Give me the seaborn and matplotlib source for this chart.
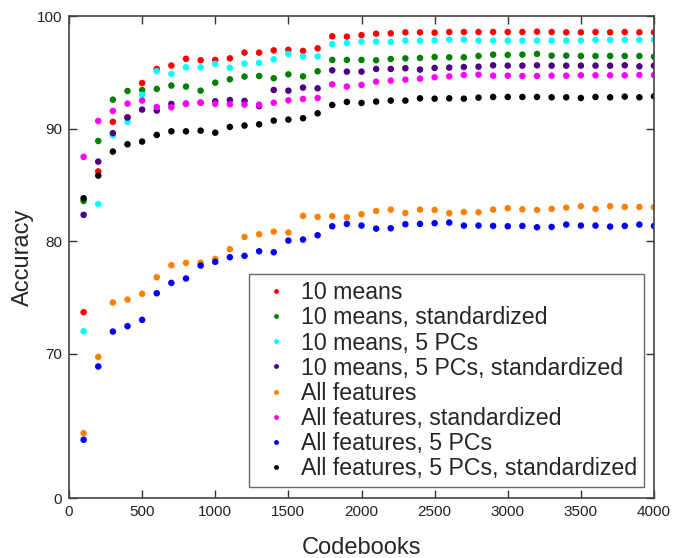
import pandas as pd
import numpy as np
import matplotlib
matplotlib.use("Agg")
import matplotlib.pyplot as plt
import seaborn as sns

codebooks = list(range(100, 4100, 100))

means10 = [73.7, 86.2, 90.6, 91.0, 94.05, 95.3, 95.6, 96.2, 96.07, 96.1, 96.24, 96.75, 96.75, 96.95, 97.0, 96.9, 97.13,
           98.2, 98.17, 98.3, 98.43,
           98.46, 98.55, 98.55, 98.52, 98.58, 98.58, 98.58, 98.58, 98.58, 98.58, 98.61, 98.58, 98.55, 98.55, 98.58, 98.55, 98.58, 98.55, 98.55]
means10_std = [83.58, 88.9, 92.57, 93.34, 93.43, 93.52, 93.82, 93.73, 93.37, 94.08, 94.38, 94.62, 94.67, 94.47, 94.82, 94.64, 95.09,
               96.1, 96.1, 96.1, 96.07,
               96.18, 96.24, 96.27, 96.36, 96.33, 96.33, 96.45, 96.57, 96.54, 96.57, 96.63, 96.48, 96.48, 96.45, 96.45, 96.45, 96.45, 96.45, 96.39]
means10_pc = [72.0, 83.3, 89.4, 90.6, 93.0, 95.1, 94.85, 95.44, 95.44, 95.74, 95.41, 95.77, 95.83, 96.15, 96.63, 96.4, 96.4,
              97.5, 97.6, 97.72, 97.72,
              97.69, 97.81, 97.81, 97.84, 97.9, 97.9, 97.81, 97.81, 97.81, 97.81, 97.81, 97.81, 97.81, 97.81, 97.87, 97.87, 97.87, 97.87, 97.9]
means10_pc_std = [82.34, 87.07, 89.6, 90.98, 91.69, 91.6, 92.19, 92.22, 92.3, 92.43, 92.54, 92.46, 92.0, 93.43, 93.37, 93.64, 93.58,
                  95.18, 95.06, 95.06, 95.3,
                  95.3, 95.36, 95.24, 95.39, 95.42, 95.47, 95.5, 95.62, 95.59, 95.59, 95.62, 95.59, 95.59, 95.59, 95.59, 95.59, 95.62, 95.53, 95.59]
allfeat = [62.96, 69.73, 74.56, 74.82, 75.33, 76.8, 77.87, 78.08, 78.1, 78.43, 79.29, 80.38, 80.62, 80.86, 80.77, 82.25, 82.16,
           82.22, 82.13, 82.4, 82.69,
           82.81, 82.51, 82.81, 82.78, 82.49, 82.6, 82.57, 82.81, 82.93, 82.84, 82.78, 82.87, 82.99, 83.11, 82.87, 83.11, 83.05, 83.05, 83.02]
allfeat_std = [87.49, 90.68, 91.57, 92.22, 92.49, 91.92, 91.89, 92.19, 92.3, 92.19, 92.16, 92.13, 92.13, 92.3, 92.51, 92.63, 92.72,
               93.93, 93.73, 93.88, 94.17,
               94.26, 94.35, 94.44, 94.56, 94.64, 94.76, 94.79, 94.7, 94.7, 94.67, 94.67, 94.7, 94.7, 94.73, 94.73, 94.73, 94.73, 94.76, 94.76]
allfeat_pc = [62.37, 68.88, 71.98, 72.46, 73.02, 75.38, 76.3, 76.69, 77.84, 78.17, 78.58, 78.7, 79.11, 79.02, 80.06, 80.15, 80.53,
              81.33, 81.54, 81.39, 81.12,
              81.15, 81.51, 81.54, 81.6, 81.66, 81.39, 81.39, 81.36, 81.33, 81.36, 81.24, 81.27, 81.48, 81.39, 81.39, 81.3, 81.36, 81.48, 81.36]
allfeat_pc_std = [83.82, 85.83, 87.96, 88.61, 88.85, 89.44, 89.76, 89.76, 89.82, 89.64, 90.15, 90.27, 90.38, 90.71, 90.8, 90.92, 91.36,
                  92.1, 92.37, 92.28, 92.4,
                  92.49, 92.49, 92.69, 92.66, 92.69, 92.66, 92.75, 92.81, 92.81, 92.81, 92.81, 92.78, 92.78, 92.72, 92.81, 92.78, 92.84, 92.78, 92.87]

series = [means10, means10_std, means10_pc, means10_pc_std, allfeat, allfeat_std, allfeat_pc, allfeat_pc_std]
names = ['10 means', '10 means, standardized', '10 means, 5 PCs', '10 means, 5 PCs, standardized',
         'All features', 'All features, standardized', 'All features, 5 PCs', 'All features, 5 PCs, standardized']
colors = ['#ff0000', '#008000', '#00ffff', '#4b0082', '#ff8000', '#ff00ff', '#0000ff', '#000000']

ytick_vals = [57.2, 70, 80, 90, 100]
ytick_labels = ['0', '70', '80', '90', '100']

df = pd.DataFrame({
    'Codebooks': codebooks * len(series),
    'Accuracy': np.concatenate(series),
    'method': np.repeat(names, len(codebooks)),
})

sns.set_style('ticks')
plt.rcParams['font.family'] = ['Liberation Sans', 'DejaVu Sans']

fig = plt.figure(figsize=(6.74, 5.58), dpi=100)
ax = fig.add_axes([69 / 674, 60 / 558, 585 / 674, 482 / 558])
sns.scatterplot(data=df, x='Codebooks', y='Accuracy', hue='method', hue_order=names,
                palette=colors, s=22, linewidth=0, ax=ax, legend=True)

ax.set_xlim(0, 4000)
ax.set_ylim(57.2, 100)
ax.set_xticks([0, 500, 1000, 1500, 2000, 2500, 3000, 3500, 4000])
ax.set_yticks(ytick_vals)
ax.set_yticklabels(ytick_labels)
ax.tick_params(direction='in', top=True, right=True, length=6, width=1, colors='#333333',
               labelsize=11, labelcolor='#222222', pad=5)
for sp in ax.spines.values():
    sp.set_color('#444444')
    sp.set_linewidth(1.2)
ax.set_xlabel('Codebooks', fontsize=17, labelpad=13)
ax.set_ylabel('Accuracy', fontsize=17, labelpad=2)

leg = ax.legend(loc='lower right', bbox_to_anchor=(0.983, 0.023), borderaxespad=0, fontsize=16.7,
                frameon=True, fancybox=False, edgecolor='#444444', handletextpad=0.2, borderpad=0.3,
                labelspacing=0.09, markerscale=0.75, handlelength=1.75)
leg.get_frame().set_linewidth(1.0)

fig.savefig('out.png', dpi=100)
